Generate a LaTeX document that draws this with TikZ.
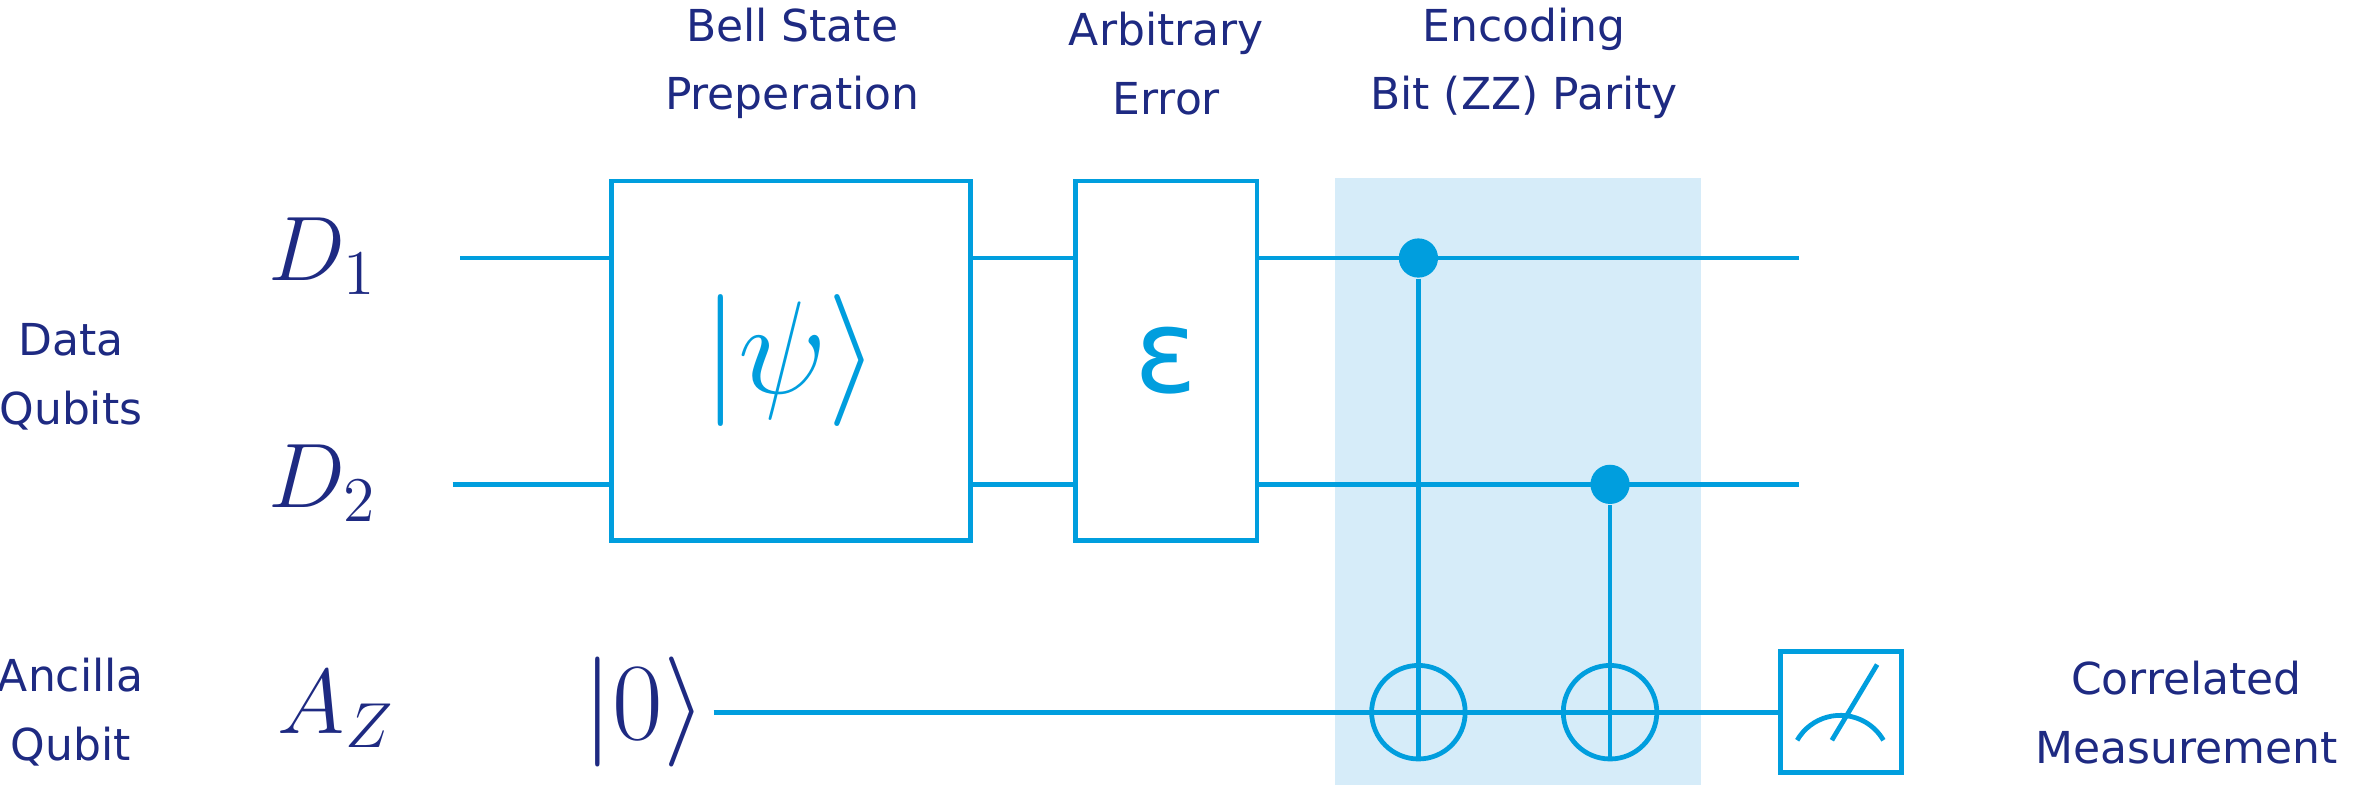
\documentclass[tikz,border=0pt]{standalone}
\usepackage{amsmath}
\usepackage{fontspec}
\setsansfont{DejaVu Sans}
\usepackage{tikz}
\usepackage{xcolor}
\definecolor{wirecol}{RGB}{0,158,222}
\definecolor{txtcol}{RGB}{30,42,130}
\definecolor{shadecol}{RGB}{214,236,249}
\begin{document}
\begin{tikzpicture}
            % Define styles
            \tikzstyle{gate} = [rectangle, draw=wirecol, line width=0.9pt, fill=white, inner sep=0pt]
            \tikzstyle{wire} = [draw=wirecol, line width=0.9pt]
            \tikzstyle{label} = [text=txtcol, font=\sffamily\fontsize{8.3}{13}\selectfont, align=center, inner sep=0pt]
            \tikzstyle{qname} = [text=txtcol, font=\fontsize{18}{20}\selectfont]
            \useasboundingbox (0,0) rectangle (15.68,5.20);

            % Shaded encoding region
            \fill [shadecol] (8.85,0) rectangle (11.27,4.02);

            % Labels on the left
            \node (data) [label] at (0.47,2.70) {Data\\Qubits};
            \node (ancilla) [label] at (0.47,0.48) {Ancilla\\Qubit};
            \node (d1) [qname] at (2.14,3.50) {$D_1$};
            \node (d2) [qname] at (2.14,2.00) {$D_2$};
            \node (az) [qname] at (2.23,0.50) {$A_Z$};
            \node (zero) [qname, font=\fontsize{21}{23}\selectfont] at (4.27,0.48) {$|0\rangle$};

            % Wire ends
            \coordinate (d1in) at (3.05,3.49);
            \coordinate (d2in) at (3.00,1.99);
            \coordinate (azin) at (4.73,0.48);
            \coordinate (d1out) at (11.92,3.49);
            \coordinate (d2out) at (11.92,1.99);

            % Wires
            \draw [wire] (d1in) -- (d1out);
            \draw [wire] (d2in) -- (d2out);

            % Gates
            \node (bell) [gate, minimum width=2.38cm, minimum height=2.38cm] at (5.24,2.81) {};
            \node (psi) [text=wirecol, font=\fontsize{23}{25}\selectfont] at (bell) {$|\psi\rangle$};
            \node (err) [gate, minimum width=1.20cm, minimum height=2.38cm] at (7.73,2.81) {};
            \node (eps) [text=wirecol, font=\sffamily\fontsize{22}{24}\selectfont] at (err) {ε};

            % Controls and targets
            \node (c1) [circle, fill=wirecol, inner sep=0pt, minimum size=0.26cm] at (9.40,3.49) {};
            \node (c2) [circle, fill=wirecol, inner sep=0pt, minimum size=0.26cm] at (10.67,1.99) {};
            \node (t1) [circle, draw=wirecol, line width=0.9pt, inner sep=0pt, minimum size=0.62cm] at (9.40,0.48) {};
            \node (t2) [circle, draw=wirecol, line width=0.9pt, inner sep=0pt, minimum size=0.62cm] at (10.67,0.48) {};
            \node (meas) [gate, minimum width=0.80cm, minimum height=0.80cm] at (12.20,0.48) {};
            \draw [wire] (azin) -- (meas.west);
            \draw [wire] (c1) -- (t1.south);
            \draw [wire] (c2) -- (t2.south);

            % Meter
            \draw [wire] ([xshift=-0.29cm,yshift=0.23cm]meas.south) arc (150:30:0.33);
            \draw [wire] ([xshift=-0.06cm,yshift=0.23cm]meas.south) -- ([xshift=0.24cm,yshift=-0.10cm]meas.north);

            % Headers
            \node (bellt) [label] at (5.25,4.78) {Bell State\\Preperation};
            \node (errt) [label] at (7.73,4.78) {Arbitrary\\Error};
            \node (enct) [label] at (10.10,4.78) {Encoding\\Bit (ZZ) Parity};
            \node (corr) [label] at (14.49,0.48) {Correlated\\Measurement};
        \end{tikzpicture}
\end{document}
